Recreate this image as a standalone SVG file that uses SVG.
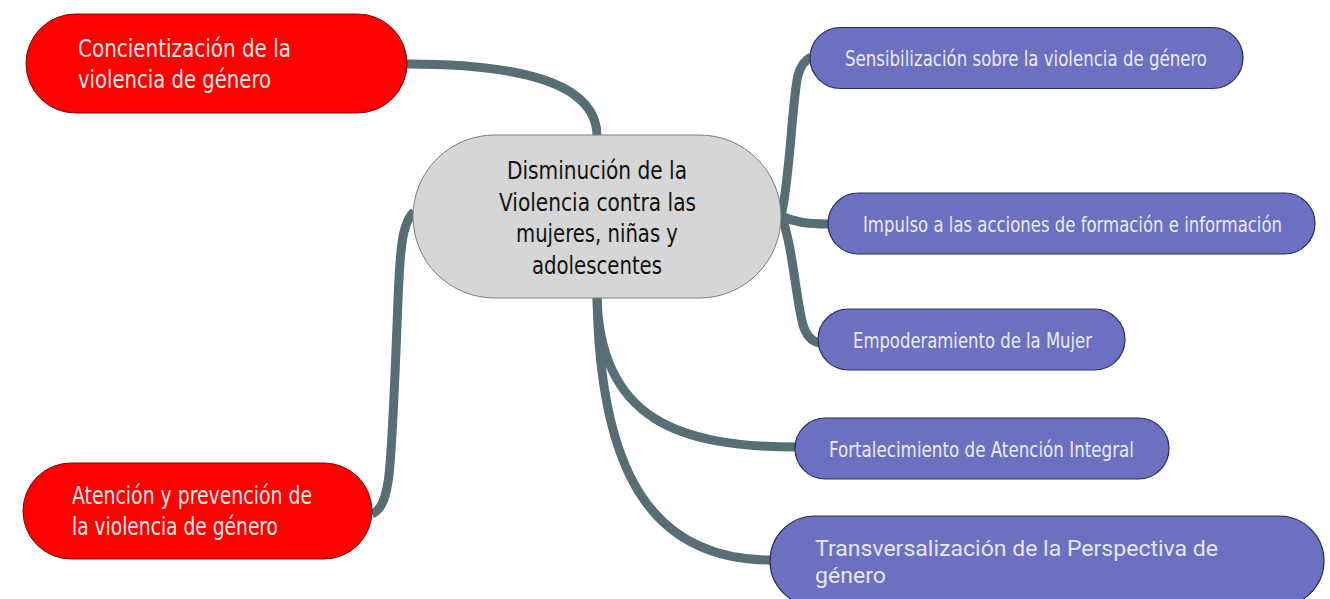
<svg xmlns="http://www.w3.org/2000/svg" width="1330" height="599" viewBox="0 0 1330 599">
<style>
.bg{fill:#ffffff}
.edge{fill:none;stroke:#566e74;stroke-width:9;stroke-linecap:butt}
.red{fill:#ff0000;stroke:#7a0a0a;stroke-width:1}
.blue{fill:#6b70c1;stroke:#2c2d5e;stroke-width:1.2}
.center{fill:#d6d6d6;stroke:#7d7d7d;stroke-width:1}
.t{font-family:"DejaVu Sans Condensed","DejaVu Sans","Liberation Sans Narrow",sans-serif;font-stretch:condensed}
.tr{fill:#f6e8e8;font-size:25px}
.tb{fill:#ebebf7;font-size:21px}
.tc{fill:#111111;font-size:24.5px}
.tr5{font-family:Roboto,"Noto Sans",sans-serif;fill:#e6e6f5;font-size:22px}
</style>
<rect class="bg" x="0" y="0" width="1330" height="599"/>
<g id="connectors">
<path class="edge" d="M407,64 C540,64 597,90 597,136"/>
<path class="edge" d="M414,212 C402,222 400,250 398,300 C395,380 392,460 388,482 C385,502 380,510 372,514"/>
<path class="edge" d="M781,216 C790,180 792,100 798,75 C801,65 805,60 811,57"/>
<path class="edge" d="M781,216 C795,222 805,224 829,224"/>
<path class="edge" d="M781,216 C792,240 796,300 803,325 C806,335 811,341 819,343"/>
<path class="edge" d="M597,297 C600,420 680,447 796,447"/>
<path class="edge" d="M597,297 C600,470 650,560 771,560"/>
</g>
<g id="node-concientizacion">
<rect class="red" x="26" y="14" width="381" height="99" rx="49.5"/>
<text class="t tr" x="78" y="57" textLength="213" lengthAdjust="spacingAndGlyphs">Concientización de la</text>
<text class="t tr" x="78" y="88" textLength="193" lengthAdjust="spacingAndGlyphs">violencia de género</text>
</g>
<g id="node-atencion">
<rect class="red" x="23" y="463" width="349" height="96" rx="48"/>
<text class="t tr" x="72" y="504" textLength="240" lengthAdjust="spacingAndGlyphs">Atención y prevención de</text>
<text class="t tr" x="72" y="535" textLength="206" lengthAdjust="spacingAndGlyphs">la violencia de género</text>
</g>
<g id="node-center">
<rect class="center" x="413" y="135" width="368" height="163" rx="81.5"/>
<text class="t tc" x="507" y="179" textLength="180" lengthAdjust="spacingAndGlyphs">Disminución de la</text>
<text class="t tc" x="499" y="210.5" textLength="197" lengthAdjust="spacingAndGlyphs">Violencia contra las</text>
<text class="t tc" x="516" y="242" textLength="162" lengthAdjust="spacingAndGlyphs">mujeres, niñas y</text>
<text class="t tc" x="532" y="274" textLength="130" lengthAdjust="spacingAndGlyphs">adolescentes</text>
</g>
<g id="node-sensibilizacion">
<rect class="blue" x="810" y="27.5" width="433" height="61" rx="30.5"/>
<text class="t tb" x="845" y="66" textLength="362" lengthAdjust="spacingAndGlyphs">Sensibilización sobre la violencia de género</text>
</g>
<g id="node-impulso">
<rect class="blue" x="828" y="193" width="487" height="61" rx="30.5"/>
<text class="t tb" x="863" y="231.5" textLength="419" lengthAdjust="spacingAndGlyphs">Impulso a las acciones de formación e información</text>
</g>
<g id="node-empoderamiento">
<rect class="blue" x="818" y="309" width="307" height="61" rx="30.5"/>
<text class="t tb" x="853" y="348" textLength="239" lengthAdjust="spacingAndGlyphs">Empoderamiento de la Mujer</text>
</g>
<g id="node-fortalecimiento">
<rect class="blue" x="795" y="418" width="374" height="61" rx="30.5"/>
<text class="t tb" x="829" y="457" textLength="305" lengthAdjust="spacingAndGlyphs">Fortalecimiento de Atención Integral</text>
</g>
<g id="node-transversalizacion">
<rect class="blue" x="770" y="516" width="554" height="90" rx="45"/>
<text class="tr5" x="815" y="555.5" textLength="403" lengthAdjust="spacingAndGlyphs">Transversalización de la Perspectiva de</text>
<text class="tr5" x="815" y="583" textLength="71" lengthAdjust="spacingAndGlyphs">género</text>
</g>
</svg>
